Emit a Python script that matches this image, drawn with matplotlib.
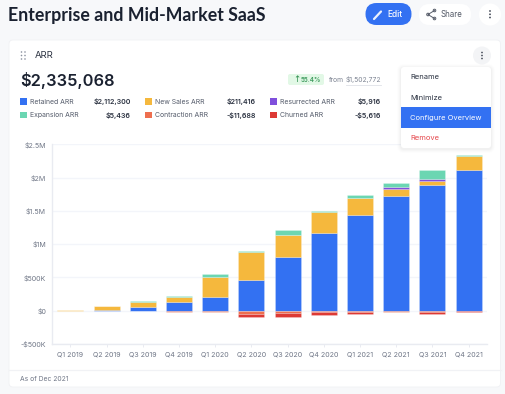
import numpy as np
import matplotlib
matplotlib.use("Agg")
import matplotlib.pyplot as plt
from matplotlib.patches import FancyBboxPatch, Rectangle, Circle
from matplotlib.ticker import FuncFormatter

plt.rcParams['font.family'] = ['Inter', 'DejaVu Sans']

quarters = ['Q1 2019','Q2 2019','Q3 2019','Q4 2019','Q1 2020','Q2 2020','Q3 2020','Q4 2020','Q1 2021','Q2 2021','Q3 2021','Q4 2021']
retained    = [0, 10000, 60000, 125000, 200000, 455000, 810000, 1165000, 1445000, 1730000, 1885000, 2112300]
new_sales   = [16000, 60000, 65000, 75000, 300000, 425000, 320000, 325000, 245000, 95000, 60000, 211416]
resurrected = [0, 0, 0, 0, 0, 0, 0, 0, 0, 30000, 40000, 5916]
expansion   = [0, 5000, 20000, 20000, 45000, 20000, 90000, 3000, 55000, 65000, 130000, 5436]
contraction = [0, -3000, -8000, -20000, -15000, -45000, -35000, -25000, -15000, -15000, -20000, -11688]
churned     = [0, 0, 0, 0, 0, -45000, -60000, -40000, -35000, -5000, -25000, -5616]

legend_names = [['Retained ARR','New Sales ARR','Resurrected ARR'],['Expansion ARR','Contraction ARR','Churned ARR']]
legend_values = [['$2,112,300','$211,416','$5,916'],['$5,436','-$11,688','-$5,616']]

BLUE='#3371f2'; YEL='#f5b83d'; PUR='#7f4fdc'; GRN='#6bd6b2'; ORG='#ee6f4f'; RED='#dd3a35'
legend_colors = [[BLUE,YEL,PUR],[GRN,ORG,RED]]
INK='#1a2130'; GREY='#6f7686'

W,H=505,394
fig=plt.figure(figsize=(W/100,H/100),dpi=100,facecolor='#f7f8fa')

def px_axes(z):
    a=fig.add_axes([0,0,1,1],zorder=z); a.set_xlim(0,W); a.set_ylim(H,0); a.axis('off'); a.patch.set_alpha(0)
    return a
def rbox(a,x0,y0,x1,y1,r,fc,ec='none',lw=0,z=1):
    p=FancyBboxPatch((x0+r,y0+r),x1-x0-2*r,y1-y0-2*r,boxstyle=f'round,pad={r},rounding_size={r}',fc=fc,ec=ec,lw=lw,zorder=z)
    a.add_patch(p); return p

bg=px_axes(0)
rbox(bg,9,40,500.5,387,4,'white','#f0f1f4',0.6)
bg.plot([9,500.5],[369.5,369.5],color='#f1f2f5',lw=0.9)
bg.text(8,15,'Enterprise and Mid-Market SaaS',fontsize=12.8,fontweight='bold',color=INK,va='center',family=['Lato','DejaVu Sans'])
rbox(bg,365.5,3,411.5,25,11,'#3371f2')
bg.plot([374,381],[19,11.5],color='white',lw=1.6,solid_capstyle='round',alpha=.9)
bg.text(387.5,14.3,'Edit',fontsize=6.0,color='white',va='center',fontweight='medium')
rbox(bg,419,4,471,25,10.5,'white')
for (x,y) in [(428,14.5),(434.5,10.5),(434.5,18.5)]:
    bg.add_patch(Circle((x,y),1.3,fc='none',ec='#555b68',lw=.7))
bg.plot([434.5,428,434.5],[10.5,14.5,18.5],color='#555b68',lw=.7)
bg.text(440.5,14.3,'Share',fontsize=5.7,color='#555b68',va='center')
bg.add_patch(Circle((490,14.5),11,fc='white',ec='none'))
for y in (11,14.3,17.5):
    bg.add_patch(Circle((490,y),.9,fc='#444a57',ec='none'))
for x in (21.5,25):
    for y in (52,55.5,59):
        bg.add_patch(Circle((x,y),.8,fc='#8d93a0',ec='none'))
bg.text(35,55.5,'ARR',fontsize=6.8,color='#2a3140',va='center')
bg.add_patch(Circle((482,55.5),9,fc='#f3f4f6',ec='none'))
for y in (52.5,55.5,58.5):
    bg.add_patch(Circle((482,y),.85,fc='#444a57',ec='none'))
bg.text(20,80,'$2,335,068',fontsize=11.8,fontweight='semibold',color=INK,va='center')
rbox(bg,288,74,324,85,2,'#e2f8e6')
bg.text(293,79.7,'↑',fontsize=6.2,color='#2f8f4e',va='center',family=['DejaVu Sans'])
bg.text(301,79.7,'55.4%',fontsize=4.5,color='#3c9a5c',va='center',fontweight='semibold')
bg.text(329,79.7,'from',fontsize=4.9,color='#7d8492',va='center')
bg.text(381,79.7,'$1,502,772',fontsize=4.9,color='#7d8492',va='center',ha='right')
bg.plot([346,381],[84.5,84.5],color='#dfe2e8',lw=.6)

for r,y in enumerate((101.5,115.2)):
    for c,(sx,vx) in enumerate(((20,131),(145,256),(270,381))):
        bg.add_patch(Rectangle((sx,y-3.3),6.5,6.5,fc=legend_colors[r][c],ec='none'))
        bg.text(sx+10,y,legend_names[r][c],fontsize=4.95,color='#555c6b',va='center')
        bg.text(vx,y,legend_values[r][c],fontsize=5.1,color='#2a3140',va='center',ha='right',fontweight='semibold')
bg.text(20,378.6,'As of Dec 2021',fontsize=4.85,color=GREY,va='center')

# chart: plot area x 52.3-486.7 px, y 144.3-344 px
ax=fig.add_axes([52.3/W,1-344/H,(486.7-52.3)/W,(344-144.3)/H],zorder=1)
ax.patch.set_alpha(0)
x=np.arange(len(quarters))
bw=0.715
edge=dict(width=bw,edgecolor=(1,1,1,.3),linewidth=.5,zorder=3)
bottom=np.zeros(len(x))
for vals,col in ((retained,BLUE),(new_sales,YEL),(resurrected,PUR),(expansion,GRN)):
    v=np.array(vals,float); ax.bar(x,v,bottom=bottom,color=col,**edge); bottom+=v
bottom=np.zeros(len(x))
for vals,col in ((contraction,ORG),(churned,RED)):
    v=np.array(vals,float); ax.bar(x,v,bottom=bottom,color=col,**edge); bottom+=v
ax.set_xlim(-.5,len(x)-.5)
ax.set_ylim(-500000,2500000)
ax.set_yticks(np.arange(-500000,2500001,500000))
def fmt(v,_):
    s='-' if v<0 else ''
    v=abs(v)
    if v==0: return '$0'
    if v>=1e6: return f'{s}${v/1e6:g}M'
    return f'{s}${v/1e3:g}K'
ax.yaxis.set_major_formatter(FuncFormatter(fmt))
ax.set_xticks(x); ax.set_xticklabels(quarters)
ax.grid(axis='y',color='#f3f5fa',lw=1,zorder=1); ax.set_axisbelow(True)
for s in ('top','right'): ax.spines[s].set_visible(False)
for s in ('left','bottom'):
    ax.spines[s].set_color('#e9ebf1'); ax.spines[s].set_linewidth(1)
ax.tick_params(axis='y',length=0,pad=4.5,labelsize=5.1,labelcolor=GREY)
ax.tick_params(axis='x',length=2,width=.7,color='#e9ebf1',pad=3.5,labelsize=5.1,labelcolor=GREY)

top=px_axes(2)
for i,al in ((4,.008),(3,.01),(2,.014),(1,.018)):
    rbox(top,401-i,67-i+1,491+i,148+i+1,3+i,(0,0,0,al))
rbox(top,401,67,491,148,3,'white')
top.add_patch(Rectangle((401,107),90,20.5,fc='#3371f2',ec='none',zorder=2))
top.text(410,77,'Rename',fontsize=5.4,color='#2a3140',va='center',zorder=3)
top.text(410,97.5,'Minimize',fontsize=5.4,color='#2a3140',va='center',zorder=3)
top.text(410,117.5,'Configure Overview',fontsize=5.4,color='white',va='center',zorder=3)
top.text(410,138,'Remove',fontsize=5.4,color='#e5484d',va='center',zorder=3)

fig.savefig('out.png',dpi=100,facecolor=fig.get_facecolor())
